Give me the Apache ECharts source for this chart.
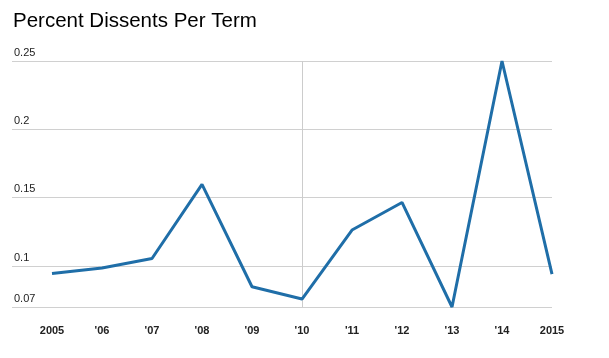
<!DOCTYPE html>
<html>
<head>
<meta charset="utf-8">
<script src="https://cdn.jsdelivr.net/npm/echarts@6/dist/echarts.min.js"></script>
<style>
html,body{margin:0;padding:0;background:#fff;}
#chart{width:609px;height:358px;}
</style>
</head>
<body>
<div id="chart"></div>
<script>
const years = [2005, 2006, 2007, 2008, 2009, 2010, 2011, 2012, 2013, 2014, 2015];
const yearLabels = ['2005', "'06", "'07", "'08", "'09", "'10", "'11", "'12", "'13", "'14", '2015'];
const dissentPct = [0.0945, 0.0985, 0.1055, 0.1597, 0.0848, 0.0758, 0.1263, 0.1465, 0.070, 0.250, 0.094];
const yTicks = [0.07, 0.1, 0.15, 0.2, 0.25];
const highlightYear = 2010;

const chart = echarts.init(document.getElementById('chart'));
chart.setOption({
  animation: false,
  backgroundColor: '#ffffff',
  title: {
    text: 'Percent Dissents Per Term',
    left: 8, top: 6,
    textStyle: {fontFamily: 'Liberation Sans, Arial, sans-serif', fontSize: 20.5, fontWeight: 'normal', color: '#000'}
  },
  grid: {left: 12, right: 57, top: 61, bottom: 51},
  xAxis: {
    type: 'value', min: 2004.2, max: 2015,
    axisLine: {show: false}, axisTick: {show: false, customValues: years},
    splitLine: {show: false},
    axisLabel: {
      customValues: years, margin: 18,
      fontFamily: 'Liberation Sans, Arial, sans-serif', fontSize: 11, fontWeight: 'bold', color: '#222',
      formatter: v => yearLabels[years.indexOf(Math.round(v))]
    }
  },
  yAxis: {
    type: 'value', min: 0.07, max: 0.25,
    axisLine: {show: false},
    axisTick: {show: false, customValues: yTicks},
    splitLine: {show: true, lineStyle: {color: '#d0d0d0', width: 1}},
    axisLabel: {
      customValues: yTicks, inside: true, margin: 2,
      verticalAlign: 'bottom', padding: [0, 0, 3, 0],
      fontFamily: 'Liberation Sans, Arial, sans-serif', fontSize: 11, color: '#222',
      formatter: v => String(+v.toFixed(2))
    }
  },
  series: [{
    type: 'line',
    data: years.map((y, i) => [y, dissentPct[i]]),
    symbol: 'none',
    lineStyle: {color: '#1f6ea8', width: 3},
    z: 3,
    markLine: {
      silent: true, symbol: 'none', label: {show: false},
      lineStyle: {color: '#cccccc', width: 1, type: 'solid'},
      data: [{xAxis: highlightYear}],
      z: 1
    }
  }]
});
</script>
</body>
</html>
